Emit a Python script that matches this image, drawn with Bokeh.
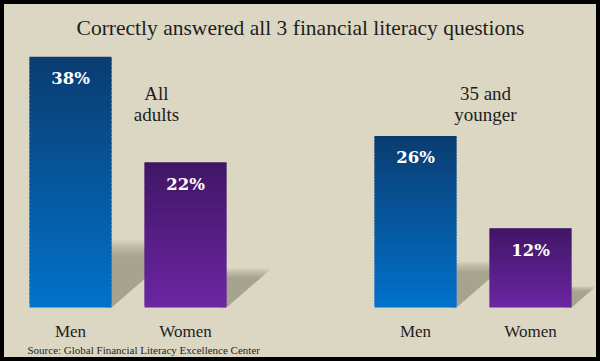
import numpy as np
from bokeh.plotting import figure
from bokeh.models import Range1d, ColumnDataSource
from bokeh.core.properties import value
from bokeh.embed import file_html
from bokeh.resources import INLINE

# ---------------- data ----------------
groups = ["All adults", "35 and younger"]
group_lines = [["All", "adults"], ["35 and", "younger"]]
genders = ["Men", "Women"]
values = [38, 22, 26, 12]          # Men, Women (All adults), Men, Women (35 and younger)
value_labels = ["38%", "22%", "26%", "12%"]
title_text = "Correctly answered all 3 financial literacy questions"
source_text = "Source: Global Financial Literacy Excellence Center"

# ---------------- layout / style ----------------
W, H = 600, 361
PX_X = 115.0      # px per x unit
PX_Y = 6.6        # px per 1 %
X0 = 70.0         # px position of x=0 (from left)
BASE_Y = 307.0    # px position of 0 % (from top)

def ypx(py):      # pixel row (from top) -> data y
    return (BASE_Y - py) / PX_Y

def xpx(px):      # pixel column -> data x
    return (px - X0) / PX_X

BG = "#DCD7C2"
TXT = "#1E1E1E"
men_top, men_bot = (10, 60, 112), (2, 114, 204)
wom_top, wom_bot = (64, 22, 102), (108, 38, 162)
SERIF = value("Liberation Serif")

xs = [gi * 3 + si for gi in range(len(groups)) for si in range(len(genders))]
bar_w = 82 / PX_X

p = figure(width=W, height=H, output_backend="svg", toolbar_location=None,
           x_range=Range1d(xpx(0), xpx(W)),
           y_range=Range1d(ypx(H), ypx(0)),
           min_border=0)
p.axis.visible = False
p.grid.visible = False
p.background_fill_color = BG
p.border_fill_color = BG
p.outline_line_color = "black"
p.outline_line_width = 7

# ---------------- soft shadows ----------------
n_layers = 10
for x, v in zip(xs, values):
    x1 = x + bar_w / 2
    h = v * 1.55 / PX_Y
    s = v * 1.55 * 1.15 / PX_X
    for k in np.linspace(0.86, 1.14, n_layers):
        hh = h * k
        ss = s * k
        p.patch([x1 - 0.05, x1 - 0.05, x1 + ss, x1], [0, hh, hh, 0],
                fill_color="#8A8774", fill_alpha=0.095, line_alpha=0)

# ---------------- gradient bars ----------------
def mix(c0, c1, t):
    return "#%02x%02x%02x" % tuple(int(round(a + (b - a) * t)) for a, b in zip(c0, c1))

N = 60
qs = dict(left=[], right=[], bottom=[], top=[], color=[])
for i, (x, v) in enumerate(zip(xs, values)):
    ctop, cbot = (men_top, men_bot) if i % 2 == 0 else (wom_top, wom_bot)
    for j in range(N):
        b = v * j / N
        t = min(v, v * (j + 1.6) / N)
        qs["left"].append(x - bar_w / 2)
        qs["right"].append(x + bar_w / 2)
        qs["bottom"].append(b)
        qs["top"].append(t)
        qs["color"].append(mix(cbot, ctop, (j + 0.5) / N))
p.quad(left="left", right="right", bottom="bottom", top="top",
       fill_color="color", line_color=None, source=ColumnDataSource(qs))

# ---------------- value labels ----------------
p.text(x=xs, y=[v - 22 / PX_Y for v in values], text=value_labels,
       text_color="white", text_font=value("DejaVu Serif"), text_font_style="bold",
       text_font_size="16.5px", text_align="center", text_baseline="alphabetic")

# ---------------- category labels ----------------
p.text(x=xs, y=[ypx(331)] * len(xs), text=[genders[i % 2] for i in range(len(xs))],
       text_color=TXT, text_font=SERIF, text_font_size="17px",
       text_align="center", text_baseline="alphabetic")

# ---------------- group labels ----------------
gx = [xpx(156), xpx(485)]
gl_x, gl_y, gl_t = [], [], []
for g, lines in zip(gx, group_lines):
    for k, line in enumerate(lines):
        gl_x.append(g)
        gl_y.append(ypx(93 + 21 * k))
        gl_t.append(line)
p.text(x=gl_x, y=gl_y, text=gl_t, text_color=TXT, text_font=SERIF,
       text_font_size="19px", text_align="center", text_baseline="alphabetic")

# ---------------- title & source ----------------
p.text(x=[xpx(W / 2)], y=[ypx(27)], text=[title_text],
       text_color=TXT, text_font=SERIF, text_font_size="21.5px",
       text_align="center", text_baseline="alphabetic")
p.text(x=[xpx(27)], y=[ypx(349)], text=[source_text],
       text_color=TXT, text_font=SERIF, text_font_size="11px",
       text_align="left", text_baseline="alphabetic")

open("out.html", "w").write(file_html(p, INLINE))
